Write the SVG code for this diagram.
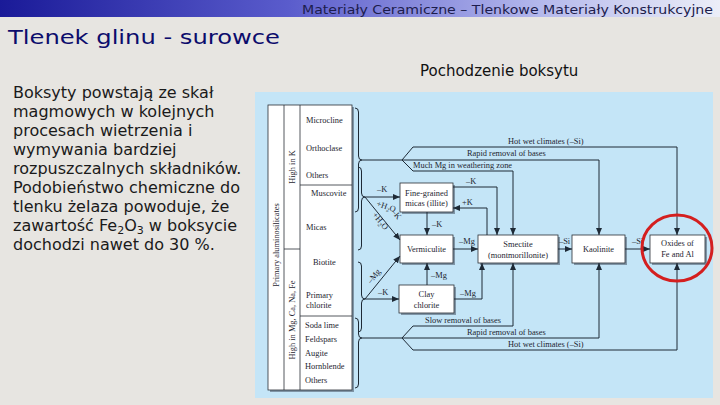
<svg xmlns="http://www.w3.org/2000/svg" width="720" height="405" viewBox="0 0 720 405">
<defs>
<linearGradient id="hdr" x1="0" y1="0" x2="1" y2="0">
<stop offset="0" stop-color="#1a1a98"/>
<stop offset="0.4" stop-color="#5a5ccc"/>
<stop offset="0.75" stop-color="#b4b8ec"/>
<stop offset="1" stop-color="#eceef8"/>
</linearGradient>
<marker id="ah" markerUnits="userSpaceOnUse" markerWidth="7" markerHeight="6" refX="7" refY="3" orient="auto">
<path d="M0,0 L7,3 L0,6 z" fill="#1e2a36"/>
</marker>
<style>
.sans{font-family:"DejaVu Sans","Liberation Sans",sans-serif}
.lbl{font-family:"Liberation Serif","DejaVu Serif",serif;font-size:8.4px;fill:#1e2530}
.mid{text-anchor:middle}
.box{fill:#ffffff;stroke:#2a2f36;stroke-width:0.8}
.shd{fill:#7f95a6}
.ln{fill:none;stroke:#1e2a36;stroke-width:1}
.arr{fill:none;stroke:#1e2a36;stroke-width:1;marker-end:url(#ah)}
.tbl{fill:none;stroke:#2a2f36;stroke-width:0.8}
</style>
</defs>
<rect x="0" y="0" width="720" height="405" fill="#e7e5e1"/>
<rect x="0" y="0" width="720" height="17" fill="url(#hdr)"/>
<text class="sans" x="713" y="14" font-size="13" fill="#1c1c4c" text-anchor="end" textLength="411" lengthAdjust="spacingAndGlyphs">Materiały Ceramiczne – Tlenkowe Materiały Konstrukcyjne</text>
<text class="sans" x="8" y="44" font-size="20" fill="#0c0c6c" textLength="272" lengthAdjust="spacingAndGlyphs">Tlenek glinu - surowce</text>
<text class="sans" x="420" y="76" font-size="15" fill="#111111">Pochodzenie boksytu</text>
<g class="sans" font-size="16" fill="#1a1a1a">
<text x="13" y="98">Boksyty powstają ze skał</text>
<text x="13" y="117">magmowych w kolejnych</text>
<text x="13" y="136">procesach wietrzenia i</text>
<text x="13" y="155">wymywania bardziej</text>
<text x="13" y="174">rozpuszczalnych składników.</text>
<text x="13" y="193">Podobieństwo chemiczne do</text>
<text x="13" y="212">tlenku żelaza powoduje, że</text>
<text x="13" y="231">zawartość Fe<tspan font-size="11" baseline-shift="-3">2</tspan>O<tspan font-size="11" baseline-shift="-3">3</tspan> w boksycie</text>
<text x="13" y="250">dochodzi nawet do 30 %.</text>
</g>
<rect x="255" y="92" width="458" height="306" fill="#c4e5f7"/>
<g id="table">
<rect x="270" y="107" width="84" height="285" class="shd"/>
<rect x="268" y="105" width="84" height="285" fill="#ffffff" stroke="#2a2f36" stroke-width="0.8"/>
<line x1="284" y1="105" x2="284" y2="390" class="tbl"/>
<line x1="300" y1="105" x2="300" y2="390" class="tbl"/>
<line x1="284" y1="249" x2="300" y2="249" class="tbl"/>
<line x1="300" y1="185" x2="352" y2="185" class="tbl"/>
<line x1="300" y1="316" x2="352" y2="316" class="tbl"/>
<text class="lbl mid" font-size="9.5" transform="translate(279,245) rotate(-90)">Primary aluminosilicates</text>
<text class="lbl mid" transform="translate(295,167) rotate(-90)">High in K</text>
<text class="lbl mid" transform="translate(295,320) rotate(-90)">High in Mg, Ca, Na, Fe</text>
<text class="lbl" x="306" y="123">Microcline</text>
<text class="lbl" x="306" y="151">Orthoclase</text>
<text class="lbl" x="306" y="178">Others</text>
<text class="lbl" x="311" y="196">Muscovite</text>
<text class="lbl" x="306" y="230">Micas</text>
<text class="lbl" x="313" y="265">Biotite</text>
<text class="lbl" x="306" y="298">Primary</text>
<text class="lbl" x="306" y="308">chlorite</text>
<text class="lbl" x="305" y="328">Soda lime</text>
<text class="lbl" x="305" y="342">Feldspars</text>
<text class="lbl" x="305" y="356">Augite</text>
<text class="lbl" x="305" y="369">Hornblende</text>
<text class="lbl" x="305" y="383">Others</text>
</g>
<g id="illite">
<rect x="402" y="185" width="53" height="29" class="shd"/>
<rect x="400" y="183" width="53" height="29" class="box"/>
<text class="lbl mid" x="426.5" y="196">Fine-grained</text>
<text class="lbl mid" x="426.5" y="206">micas (illite)</text>
</g>
<g id="vermiculite">
<rect x="402" y="237" width="53" height="28" class="shd"/>
<rect x="400" y="235" width="53" height="28" class="box"/>
<text class="lbl mid" x="426.5" y="252">Vermiculite</text>
</g>
<g id="smectite">
<rect x="480" y="237" width="80" height="28" class="shd"/>
<rect x="478" y="235" width="80" height="28" class="box"/>
<text class="lbl mid" x="518" y="247">Smectite</text>
<text class="lbl mid" x="518" y="258">(montmorillonite)</text>
</g>
<g id="kaolinite">
<rect x="574" y="237" width="53" height="28" class="shd"/>
<rect x="572" y="235" width="53" height="28" class="box"/>
<text class="lbl mid" x="598.5" y="252">Kaolinite</text>
</g>
<g id="oxides">
<rect x="652" y="237" width="55" height="28" class="shd"/>
<rect x="650" y="235" width="55" height="28" class="box"/>
<text class="lbl mid" x="677.5" y="246">Oxides of</text>
<text class="lbl mid" x="677.5" y="257">Fe and Al</text>
</g>
<g id="clay-chlorite">
<rect x="401" y="287" width="55" height="28" class="shd"/>
<rect x="399" y="285" width="55" height="28" class="box"/>
<text class="lbl mid" x="426.5" y="297">Clay</text>
<text class="lbl mid" x="426.5" y="308">chlorite</text>
</g>
<g id="connectors">
<path class="ln" d="M355,108 Q358.5,108 358.5,112 L358.5,156 Q358.5,160 362,160 Q358.5,160 358.5,164 L358.5,208 Q358.5,212 355,212"/>
<path class="ln" d="M358,167 Q361.5,167 361.5,171 L361.5,193 Q361.5,197 365,197 Q361.5,197 361.5,201 L361.5,246 Q361.5,250 358,250"/>
<path class="ln" d="M358,262 Q361.5,262 361.5,266 L361.5,295 Q361.5,299 365,299 Q361.5,299 361.5,303 L361.5,328 Q361.5,332 358,332"/>
<path class="ln" d="M355,318 Q358.5,318 358.5,322 L358.5,334 Q358.5,338 362,338 Q358.5,338 358.5,342 L358.5,384 Q358.5,388 355,388"/>
<path class="arr" d="M362,160 L599,160 L599,235"/>
<path class="arr" d="M402,160 L413,147 L677,147 L677,235"/>
<path class="arr" d="M402,160 L413,171 L513,171 L513,235"/>
<path class="arr" d="M362,338 L599,338 L599,263"/>
<path class="arr" d="M402,338 L413,326 L513,326 L513,263"/>
<path class="arr" d="M402,338 L413,350 L677,350 L677,263"/>
<path class="arr" d="M365,197 L400,197"/>
<path class="arr" d="M365,197 L400,240"/>
<path class="arr" d="M365,299 L400,256"/>
<path class="arr" d="M365,299 L399,299"/>
<path class="arr" d="M427,212 L427,235"/>
<path class="arr" d="M453,187 L497,187 L497,235"/>
<path class="arr" d="M487,235 L487,208 L453,208"/>
<path class="arr" d="M453,249 L478,249"/>
<path class="arr" d="M558,249 L572,249"/>
<path class="arr" d="M625,249 L650,249"/>
<path class="arr" d="M427,285 L427,263"/>
<path class="arr" d="M454,299 L482,299 L482,263"/>
<text class="lbl" x="508" y="144">Hot wet climates (–Si)</text>
<text class="lbl" x="467" y="156">Rapid removal of bases</text>
<text class="lbl" x="413" y="168">Much Mg in weathering zone</text>
<text class="lbl" x="425" y="323">Slow removal of bases</text>
<text class="lbl" x="467" y="335">Rapid removal of bases</text>
<text class="lbl" x="508" y="347">Hot wet climates (–Si)</text>
<text class="lbl" x="377" y="192">–K</text>
<text class="lbl" transform="translate(376,206) rotate(18)">+H<tspan font-size="6" baseline-shift="-2">2</tspan>O</text>
<text class="lbl" transform="translate(391,212) rotate(51)">–K</text>
<text class="lbl" transform="translate(372,215) rotate(51)">+H<tspan font-size="6" baseline-shift="-2">2</tspan>O</text>
<text class="lbl" transform="translate(371,284) rotate(-51)">–Mg</text>
<text class="lbl" x="378" y="295">–K</text>
<text class="lbl" x="432" y="227">–K</text>
<text class="lbl" x="466" y="184">–K</text>
<text class="lbl" x="462" y="205">+K</text>
<text class="lbl" x="459" y="244">–Mg</text>
<text class="lbl" x="559" y="244">–Si</text>
<text class="lbl" x="632" y="244">–Si</text>
<text class="lbl" x="431" y="278">–Mg</text>
<text class="lbl" x="460" y="296">–Mg</text>
</g>
<ellipse cx="677" cy="248" rx="35" ry="33" fill="none" stroke="#d41f1f" stroke-width="3"/>
</svg>
